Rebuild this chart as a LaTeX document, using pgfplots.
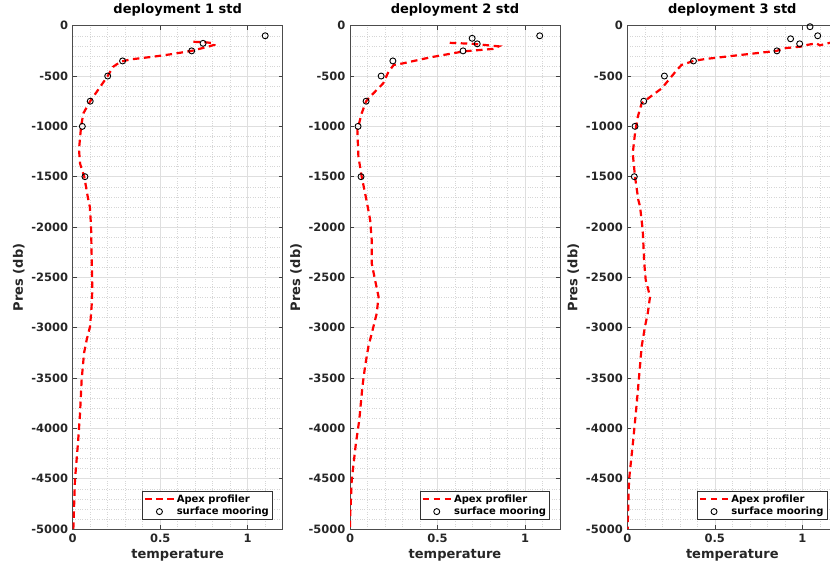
\documentclass[border=0pt]{standalone}
\usepackage{fontspec}
\setmainfont{DejaVu Sans}
\usepackage{pgfplots}
\pgfplotsset{compat=1.18}
\definecolor{axgray}{RGB}{38,38,38}
\pgfplotsset{
  panel/.style={
    scale only axis, width=210pt, height=503.3pt,
    xmin=0, xmax=1.2, ymin=-5000, ymax=0,
    xtick={0,0.5,1}, ytick={-5000,-4500,-4000,-3500,-3000,-2500,-2000,-1500,-1000,-500,0},
    minor xtick={0.1,0.2,0.3,0.4,0.6,0.7,0.8,0.9,1.1},
    minor ytick={-4900,-4800,-4700,-4600,-4400,-4300,-4200,-4100,-3900,-3800,-3700,-3600,-3400,-3300,-3200,-3100,-2900,-2800,-2700,-2600,-2400,-2300,-2200,-2100,-1900,-1800,-1700,-1600,-1400,-1300,-1200,-1100,-900,-800,-700,-600,-400,-300,-200,-100},
    grid=both,
    major grid style={gray!25, line width=0.6pt},
    minor grid style={gray!32, dotted, line width=0.45pt},
    tick align=inside, major tick length=4pt, minor tick length=0pt,
    axis line style={black!70, line width=0.8pt},
    every tick/.style={black!75, line width=0.6pt},
    ticklabel style={font=\fontsize{11.5}{13}\selectfont\bfseries, text=axgray},
    xticklabel style={yshift=-1.5pt},
    yticklabel style={xshift=-1pt},
    /pgf/number format/assume math mode=true,
    /pgf/number format/1000 sep={},
    xlabel={temperature}, ylabel={Pres (db)},
    label style={font=\fontsize{13}{15}\selectfont\bfseries, text=axgray},
    title style={font=\fontsize{13}{15}\selectfont\bfseries},
    legend style={at={(1,0)}, anchor=south east, xshift=-10pt, yshift=9pt,
      font=\fontsize{10}{12}\selectfont\bfseries, draw=black!80, line width=0.7pt,
      inner sep=1.5pt, row sep=-0.5pt},
    legend cell align=left,
    legend image code/.code={\draw[mark repeat=2,mark phase=2] plot coordinates {(0cm,0cm) (0.5cm,0cm) (1cm,0cm)};},
  },
  apex/.style={draw=red, line width=2.2pt, dash pattern=on 6.5pt off 4.5pt, no marks},
  moor/.style={only marks, mark=o, mark size=3pt, draw=black, mark options={line width=0.9pt, draw=black}},
}
\begin{document}
\begin{tikzpicture}
\useasboundingbox (0,0) rectangle (830pt,566pt);
% ---------- panel 1
\begin{axis}[panel, at={(72.7pt,37pt)}, anchor=south west, title={deployment 1 std}]
\addplot[apex] coordinates {
(0.69,-160) (0.76,-165) (0.81,-175) (0.81,-190) (0.78,-205) (0.68,-250) (0.56,-284)
(0.46,-308) (0.33,-335) (0.28,-355) (0.25,-385) (0.23,-410) (0.20,-500) (0.16,-600)
(0.10,-750) (0.061,-870) (0.048,-1000) (0.036,-1230) (0.042,-1370) (0.066,-1500)
(0.086,-1700) (0.098,-1800) (0.105,-2000) (0.108,-2260) (0.112,-2625) (0.108,-2790)
(0.099,-2990) (0.08,-3120) (0.065,-3250) (0.051,-3520) (0.042,-3850) (0.030,-4150)
(0.013,-4510) (0.004,-4980) (0.003,-5000)};
\addlegendentry{Apex profiler}
\addplot[moor] coordinates {
(1.10,-100) (0.745,-175) (0.68,-250) (0.285,-350) (0.20,-500) (0.10,-750) (0.055,-1000) (0.07,-1500)};
\addlegendentry{surface mooring}
\end{axis}
% ---------- panel 2
\begin{axis}[panel, at={(350pt,37pt)}, anchor=south west, title={deployment 2 std}]
\addplot[apex] coordinates {
(0.57,-170) (0.70,-180) (0.85,-205) (0.82,-230) (0.65,-255) (0.46,-314) (0.30,-375)
(0.25,-390) (0.22,-457) (0.19,-572) (0.115,-705) (0.092,-751) (0.067,-870) (0.042,-1036)
(0.048,-1300) (0.067,-1500) (0.092,-1714) (0.115,-1929) (0.124,-2128) (0.124,-2360)
(0.143,-2525) (0.163,-2691) (0.153,-2856) (0.134,-2989) (0.105,-3188) (0.086,-3386)
(0.071,-3585) (0.053,-3916) (0.033,-4160) (0.01,-4511) (0.0,-4908) (0.0,-5000)};
\addlegendentry{Apex profiler}
\addplot[moor] coordinates {
(1.084,-100) (0.698,-125) (0.727,-180) (0.646,-250) (0.245,-350) (0.178,-500) (0.092,-750) (0.046,-1000) (0.063,-1500)};
\addlegendentry{surface mooring}
\end{axis}
% ---------- panel 3
\begin{axis}[panel, at={(627.3pt,37pt)}, anchor=south west, title={deployment 3 std}]
\addplot[apex] coordinates {
(1.18,-160) (1.10,-195) (1.08,-175) (1.03,-190) (0.99,-208) (0.89,-225) (0.855,-250)
(0.64,-292) (0.445,-331) (0.378,-350) (0.31,-390) (0.283,-440) (0.244,-523) (0.197,-622)
(0.12,-721) (0.082,-771) (0.06,-904) (0.044,-1069) (0.031,-1267) (0.044,-1500)
(0.063,-1731) (0.073,-1797) (0.088,-2029) (0.097,-2360) (0.105,-2525) (0.13,-2691)
(0.117,-2856) (0.101,-2989) (0.082,-3188) (0.069,-3452) (0.054,-3750) (0.034,-4114)
(0.01,-4511) (0.002,-4975) (0.002,-5000)};
\addlegendentry{Apex profiler}
\addplot[moor] coordinates {
(1.044,-10) (1.088,-100) (0.933,-130) (0.985,-180) (0.855,-250) (0.378,-350) (0.212,-500) (0.094,-750) (0.044,-1000) (0.04,-1500)};
\addlegendentry{surface mooring}
\end{axis}
\end{tikzpicture}
\end{document}
